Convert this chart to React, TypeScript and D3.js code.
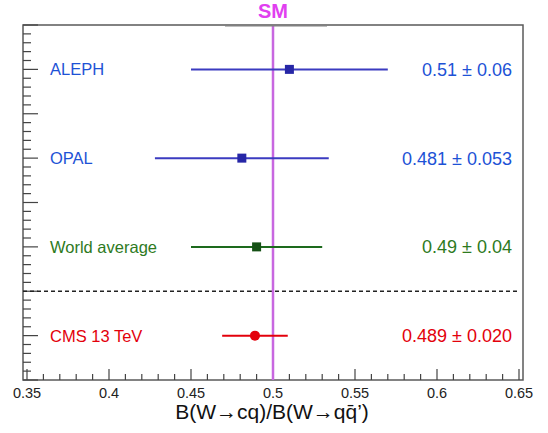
import { useEffect, useRef } from 'react';
import * as d3 from 'd3';

// measurements, top to bottom
const labels = ['ALEPH', 'OPAL', 'World average', 'CMS 13 TeV'];
const centralValues = [0.51, 0.481, 0.49, 0.489];
const uncertainties = [0.06, 0.053, 0.04, 0.02];
const valueTexts = ['0.51 ± 0.06', '0.481 ± 0.053', '0.49 ± 0.04', '0.489 ± 0.020'];
const rowPositions = [3.5, 2.5, 1.5, 0.5];
const xTickValues = [0.35, 0.4, 0.45, 0.5, 0.55, 0.6, 0.65];
const xTickLabels = ['0.35', '0.4', '0.45', '0.5', '0.55', '0.6', '0.65'];
const smValue = 0.5;
const separatorPosition = 1;

const textColors = ['#1d52d6', '#1d52d6', '#2e7a1e', '#e3000b'];
const barColors = ['#3b3bc0', '#3b3bc0', '#1d6a1d', '#e3000b'];
const markerColors = ['#2626a6', '#2626a6', '#155015', '#e3000b'];
const markerShapes = ['square', 'square', 'square', 'circle'];

const FONT = '"Liberation Sans", Arial, Helvetica, sans-serif';

const App = () => {
  const svgRef = useRef<SVGSVGElement>(null);

  useEffect(() => {
    const svg = d3.select(svgRef.current);
    svg.selectAll('*').remove();

    const frame = { left: 23, right: 523, top: 25, bottom: 380 };

    const x = d3.scaleLinear().domain([0.35, 0.65]).range([27, 519]);
    const y = d3.scaleLinear().domain([0, 4]).range([frame.bottom, frame.top]);

    svg.append('rect')
      .attr('width', 548).attr('height', 433).attr('fill', '#fff');

    // frame
    svg.append('rect')
      .attr('x', frame.left).attr('y', frame.top)
      .attr('width', frame.right - frame.left)
      .attr('height', frame.bottom - frame.top)
      .attr('fill', 'none')
      .attr('stroke', '#5a5a5a')
      .attr('stroke-width', 1.5);

    // y ticks (no labels)
    const yMinor = d3.range(0, 41).map(i => i / 10);
    svg.append('g')
      .selectAll('line')
      .data(yMinor)
      .join('line')
      .attr('x1', frame.left)
      .attr('x2', (d, i) => (i % 5 === 0 ? frame.left + 15 : frame.left + 8))
      .attr('y1', d => y(d))
      .attr('y2', d => y(d))
      .attr('stroke', '#444')
      .attr('stroke-width', 1.2);

    // x ticks
    const xMinor = d3.range(0, 31).map(i => 0.35 + i / 100);
    svg.append('g')
      .selectAll('line')
      .data(xMinor)
      .join('line')
      .attr('x1', d => x(d))
      .attr('x2', d => x(d))
      .attr('y1', frame.bottom)
      .attr('y2', (d, i) => (i % 5 === 0 ? frame.bottom - 11 : frame.bottom - 6))
      .attr('stroke', '#444')
      .attr('stroke-width', 1.2);

    svg.append('g')
      .selectAll('text')
      .data(xTickValues)
      .join('text')
      .attr('x', d => x(d))
      .attr('y', 398)
      .attr('text-anchor', 'middle')
      .attr('font-family', FONT)
      .attr('font-size', 14.5)
      .attr('fill', '#222')
      .text((d, i) => xTickLabels[i]);

    // axis title
    svg.append('text')
      .attr('x', 272)
      .attr('y', 419)
      .attr('text-anchor', 'middle')
      .attr('font-family', FONT)
      .attr('font-size', 21)
      .attr('fill', '#111')
      .text('B(W→cq)/B(W→qq̄’)');

    // separator
    svg.append('line')
      .attr('x1', frame.left)
      .attr('x2', 518)
      .attr('y1', y(separatorPosition))
      .attr('y2', y(separatorPosition))
      .attr('stroke', '#222')
      .attr('stroke-width', 1.5)
      .attr('stroke-dasharray', '4 3');

    // SM line
    svg.append('line')
      .attr('x1', x(smValue))
      .attr('x2', x(smValue))
      .attr('y1', frame.top)
      .attr('y2', frame.bottom)
      .attr('stroke', '#c867e0')
      .attr('stroke-width', 2.5);

    svg.append('line')
      .attr('x1', 225).attr('x2', 327)
      .attr('y1', 25.5).attr('y2', 25.5)
      .attr('stroke', '#808080')
      .attr('stroke-width', 2);

    svg.append('text')
      .attr('x', x(smValue))
      .attr('y', 18)
      .attr('text-anchor', 'middle')
      .attr('font-family', FONT)
      .attr('font-weight', 'bold')
      .attr('font-size', 20)
      .attr('fill', '#e13ff0')
      .text('SM');

    // error bars + markers
    const rows = svg.append('g');
    labels.forEach((label, i) => {
      const cy = y(rowPositions[i]);
      rows.append('line')
        .attr('x1', x(centralValues[i] - uncertainties[i]))
        .attr('x2', x(centralValues[i] + uncertainties[i]))
        .attr('y1', cy).attr('y2', cy)
        .attr('stroke', barColors[i])
        .attr('stroke-width', 2);

      if (markerShapes[i] === 'square') {
        rows.append('rect')
          .attr('x', x(centralValues[i]) - 4.5)
          .attr('y', cy - 4.5)
          .attr('width', 9).attr('height', 9)
          .attr('fill', markerColors[i]);
      } else {
        rows.append('circle')
          .attr('cx', x(centralValues[i]))
          .attr('cy', cy)
          .attr('r', 5)
          .attr('fill', markerColors[i]);
      }

      rows.append('text')
        .attr('x', 50)
        .attr('y', cy + 6)
        .attr('font-family', FONT)
        .attr('font-size', 16.5)
        .attr('fill', textColors[i])
        .text(label);

      rows.append('text')
        .attr('x', 512)
        .attr('y', cy + 6.5)
        .attr('text-anchor', 'end')
        .attr('font-family', FONT)
        .attr('font-size', 18)
        .attr('fill', textColors[i])
        .text(valueTexts[i]);
    });
  }, []);

  return (
    <div style={{ position: 'absolute', left: 0, top: 0 }}>
      <svg ref={svgRef} width={548} height={433} style={{ display: 'block' }}></svg>
    </div>
  );
};

export default App;
